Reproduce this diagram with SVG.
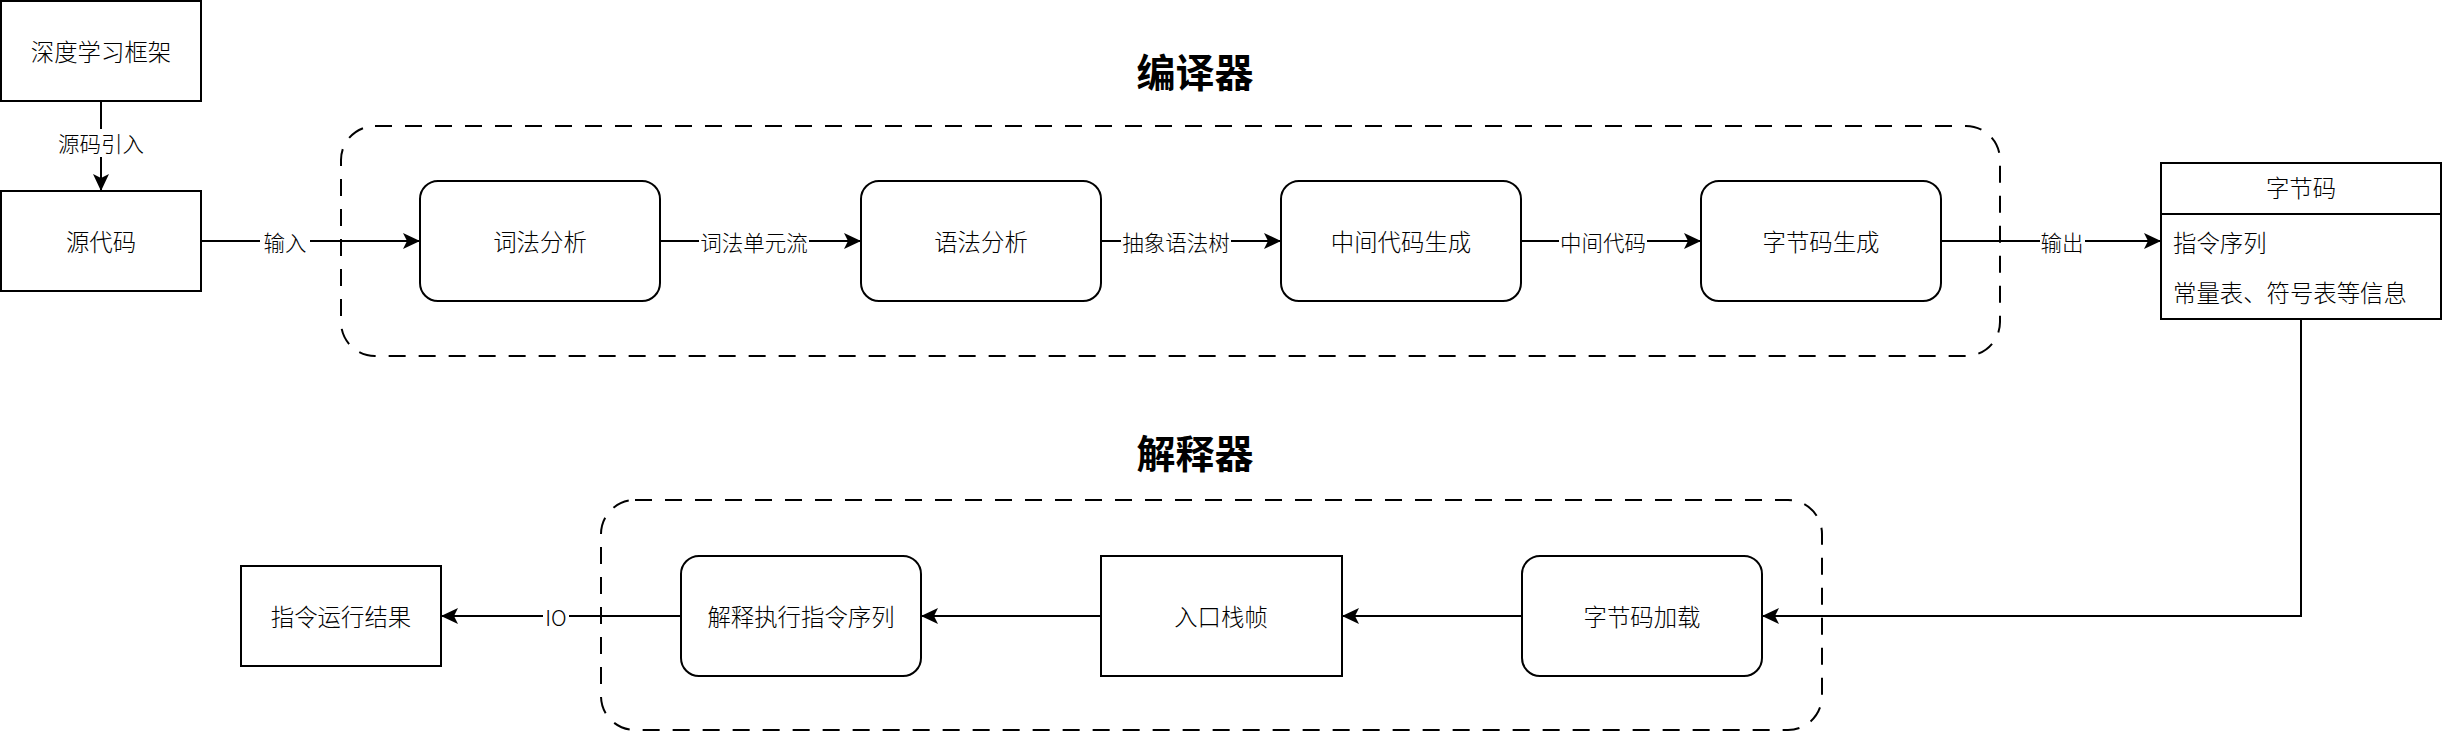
<svg xmlns="http://www.w3.org/2000/svg" width="2442" height="732" viewBox="0 0 2442 732">
<defs>
<style>
text{font-family:"Noto Sans CJK SC","Noto Sans",sans-serif;fill:#000;dominant-baseline:central;text-anchor:middle}
.node{font-size:23.4px;font-weight:300}
.lbl{font-size:21.5px;font-weight:300}
.title{font-size:39px;font-weight:bold}
.box{fill:#fff;stroke:#000;stroke-width:2}
.cont{fill:none;stroke:#000;stroke-width:2;stroke-dasharray:17 13}
.edge{fill:none;stroke:#000;stroke-width:2;marker-end:url(#arr)}
.lblbg{fill:#fff;stroke:none}
</style>
<marker id="arr" viewBox="0 0 18 16" refX="17" refY="8" markerWidth="18" markerHeight="16" markerUnits="userSpaceOnUse" orient="auto">
<path d="M0,0 L17,8 L0,16 L4,8 Z" fill="#000"/>
</marker>
</defs>
<rect width="2442" height="732" fill="#fff"/>

<g id="compiler-container">
<rect class="cont" x="341" y="126" width="1659" height="230" rx="34" ry="34"/>
<text class="title" x="1195" y="70">编译器</text>
</g>
<g id="interpreter-container">
<rect class="cont" x="601" y="500" width="1221" height="230" rx="34" ry="34"/>
<text class="title" x="1195" y="451">解释器</text>
</g>

<g id="connectors">
<path class="edge" d="M101,101 L101,191"/>
<rect class="lblbg" x="56" y="129" width="90" height="28"/>
<text class="lbl" x="101" y="142">源码引入</text>

<path class="edge" d="M201,241 L420,241"/>
<rect class="lblbg" x="260" y="228" width="50" height="26"/>
<text class="lbl" x="285" y="241">输入</text>

<path class="edge" d="M660,241 L861,241"/>
<rect class="lblbg" x="699" y="228" width="110" height="26"/>
<text class="lbl" x="754" y="241">词法单元流</text>

<path class="edge" d="M1101,241 L1281,241"/>
<rect class="lblbg" x="1121" y="228" width="110" height="26"/>
<text class="lbl" x="1176" y="241">抽象语法树</text>

<path class="edge" d="M1521,241 L1701,241"/>
<rect class="lblbg" x="1559" y="228" width="88" height="26"/>
<text class="lbl" x="1603" y="241">中间代码</text>

<path class="edge" d="M1941,241 L2161,241"/>
<rect class="lblbg" x="2040" y="228" width="45" height="26"/>
<text class="lbl" x="2062" y="241">输出</text>

<path class="edge" d="M2301,319 L2301,616 L1762,616"/>
<path class="edge" d="M1522,616 L1342,616"/>
<path class="edge" d="M1101,616 L921,616"/>

<path class="edge" d="M681,616 L441,616"/>
<rect class="lblbg" x="543" y="603" width="26" height="26"/>
<text class="lbl" x="556" y="616">IO</text>
</g>

<g id="node-framework">
<rect class="box" x="1" y="1" width="200" height="100"/>
<text class="node" x="101" y="51">深度学习框架</text>
</g>
<g id="node-source">
<rect class="box" x="1" y="191" width="200" height="100"/>
<text class="node" x="101" y="241">源代码</text>
</g>
<g id="node-lexical">
<rect class="box" x="420" y="181" width="240" height="120" rx="18" ry="18"/>
<text class="node" x="540" y="241">词法分析</text>
</g>
<g id="node-syntax">
<rect class="box" x="861" y="181" width="240" height="120" rx="18" ry="18"/>
<text class="node" x="981" y="241">语法分析</text>
</g>
<g id="node-ir">
<rect class="box" x="1281" y="181" width="240" height="120" rx="18" ry="18"/>
<text class="node" x="1401" y="241">中间代码生成</text>
</g>
<g id="node-bcgen">
<rect class="box" x="1701" y="181" width="240" height="120" rx="18" ry="18"/>
<text class="node" x="1821" y="241">字节码生成</text>
</g>
<g id="node-bytecode">
<rect class="box" x="2161" y="163" width="280" height="156"/>
<line x1="2161" y1="214" x2="2441" y2="214" stroke="#000" stroke-width="2"/>
<text class="node" x="2301" y="187">字节码</text>
<text class="node" x="2173" y="242" style="text-anchor:start">指令序列</text>
<text class="node" x="2173" y="292" style="text-anchor:start">常量表、符号表等信息</text>
</g>
<g id="node-load">
<rect class="box" x="1522" y="556" width="240" height="120" rx="18" ry="18"/>
<text class="node" x="1642" y="616">字节码加载</text>
</g>
<g id="node-frame">
<rect class="box" x="1101" y="556" width="241" height="120"/>
<text class="node" x="1221" y="616">入口栈帧</text>
</g>
<g id="node-exec">
<rect class="box" x="681" y="556" width="240" height="120" rx="18" ry="18"/>
<text class="node" x="801" y="616">解释执行指令序列</text>
</g>
<g id="node-result">
<rect class="box" x="241" y="566" width="200" height="100"/>
<text class="node" x="341" y="616">指令运行结果</text>
</g>
</svg>
